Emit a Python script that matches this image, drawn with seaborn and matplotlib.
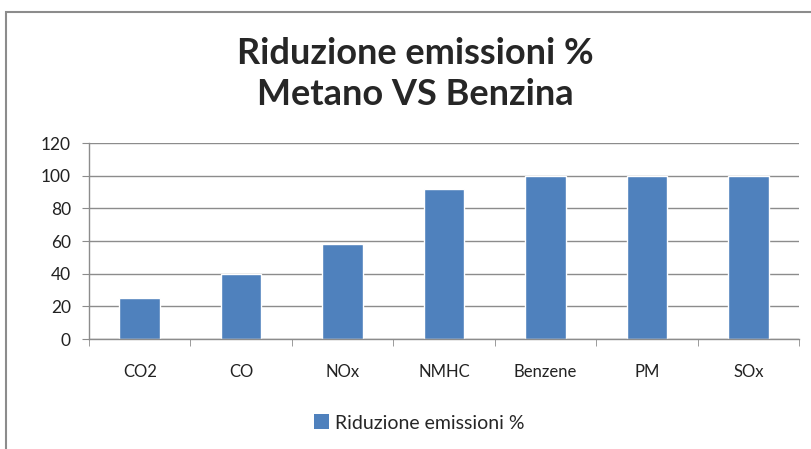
# bar chart: riduzione emissioni metano vs benzina
import matplotlib
matplotlib.use("Agg")
import matplotlib.pyplot as plt
from matplotlib.patches import Rectangle, Patch
import pandas as pd
import seaborn as sns

categories = ["CO2", "CO", "NOx", "NMHC", "Benzene", "PM", "SOx"]
reduction = [25, 40, 58, 92, 100, 100, 100]
series_name = "Riduzione emissioni %"

df = pd.DataFrame({"cat": categories, "val": reduction})

sns.set_style("white")
plt.rcParams["font.family"] = ["Lato", "DejaVu Sans"]

fig = plt.figure(figsize=(8.11, 4.49), dpi=100)
ax = fig.add_axes([89 / 811, 1 - 339 / 449, 710 / 811, 196 / 449])

bar_color = "#4F81BD"
sns.barplot(data=df, x="cat", y="val", color=bar_color, width=0.4,
            saturation=1, ax=ax)

ax.set_ylim(0, 120)
ax.set_yticks(range(0, 121, 20))
ax.set_xlim(-0.5, len(categories) - 0.5)
ax.set_xlabel("")
ax.set_ylabel("")
ax.grid(axis="y", color="#8c8c8c", linewidth=1)
ax.set_axisbelow(True)

for s in ["top", "right"]:
    ax.spines[s].set_visible(False)
for s in ["left", "bottom"]:
    ax.spines[s].set_color("#8c8c8c")
    ax.spines[s].set_linewidth(1)

ax.tick_params(axis="y", length=5, color="#8c8c8c", labelsize=12.5,
               labelcolor="#222222", pad=8, left=True)
ax.tick_params(axis="x", which="major", length=0, labelsize=12,
               labelcolor="#222222", pad=18)
ax.set_xticks([i + 0.5 for i in range(-1, len(categories))], minor=True)
ax.tick_params(axis="x", which="minor", length=5, color="#8c8c8c",
               bottom=True)

fig.text(0.512, 1 - 74 / 449, "Riduzione emissioni %\nMetano VS Benzina",
         ha="center", va="center", fontsize=26, fontweight="bold",
         linespacing=1.3)

handle = Patch(facecolor=bar_color, edgecolor="none")
fig.legend([handle], [series_name], loc="center", frameon=False,
           bbox_to_anchor=(0.517, 1 - 423 / 449), fontsize=14,
           handlelength=0.8, handleheight=0.8, handletextpad=0.3)

fig.patches.append(Rectangle((6 / 811, -0.1), 1.1, 1 - 12 / 449 + 0.1,
                             transform=fig.transFigure, fill=False,
                             edgecolor="#8c8c8c", linewidth=1.5))

fig.savefig("out.png", dpi=100)
